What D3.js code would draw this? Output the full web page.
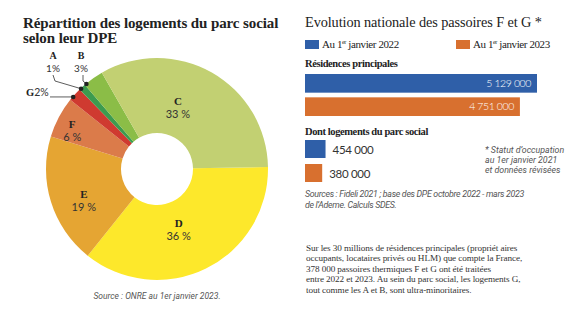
<!DOCTYPE html>
<html>
<head>
<meta charset="utf-8">
<script src="https://cdn.jsdelivr.net/npm/d3@7"></script>
<style>
  body { margin: 0; background: #fff; }
  svg { display: block; }
  .serif { font-family: "Liberation Serif", "DejaVu Serif", serif; }
  .sans { font-family: Lato, "Open Sans", sans-serif; }
  .note { font-family: "Liberation Sans Narrow", Roboto, sans-serif; font-style: italic; fill: #555; }
</style>
</head>
<body>
<div id="chart"></div>
<script>
// DPE classes of social housing, in clockwise order from 3 o'clock
const classes = ["D", "E", "F", "G", "A", "B", "C"]
const shares = [36, 19, 6, 2, 1, 3, 33]
const classColors = ["#fde82b", "#e5a533", "#db7b4a", "#cf3a30", "#3c9b4f", "#8bbd47", "#c2d072"]

// national F and G "passoires"
const periods = ["2022", "2023"]
const periodLabels = ["Au 1", "Au 1"]
const residences = [5129000, 4751000]
const parcSocial = [454000, 380000]
const periodColors = ["#2f5fa8", "#d8702f"]

const W = 576, H = 321
const svg = d3.select("#chart").append("svg").attr("width", W).attr("height", H)

const fmt = d3.formatLocale({ decimal: ",", thousands: " ", grouping: [3], currency: ["", " €"] }).format(",d")

// ---------- left: donut ----------
const cx = 157, cy = 169, outerR = 111, innerR = 36
const start = 89 * Math.PI / 180

const pie = d3.pie().sort(null).value(d => d.v).startAngle(start).endAngle(start + 2 * Math.PI)
const slices = pie(classes.map((c, i) => ({ c, v: shares[i], col: classColors[i] })))
const arc = d3.arc().innerRadius(innerR).outerRadius(outerR)

const g = svg.append("g").attr("transform", `translate(${cx},${cy})`)
g.selectAll("path").data(slices).enter().append("path")
  .attr("d", arc)
  .attr("fill", d => d.data.col)

;["Répartition des logements du parc social", "selon leur DPE"].forEach((l, i) =>
  svg.append("text").attr("class", "serif").attr("x", 23).attr("y", 28 + i * 15)
    .attr("font-size", 15).attr("font-weight", "bold").attr("letter-spacing", -0.1).attr("fill", "#222")
    .text(l))

// inside labels: angle nudge (deg) and radius per class
const inside = { C: [-12, 69], D: [5, 60], E: [-3, 78], F: [-1, 95] }
const toXY = (a, r) => [r * Math.sin(a), -r * Math.cos(a)]
slices.filter(d => inside[d.data.c]).forEach(d => {
  const [nudge, r] = inside[d.data.c]
  const a = (d.startAngle + d.endAngle) / 2 + nudge * Math.PI / 180
  const [x, y] = toXY(a, r)
  const t = g.append("text").attr("text-anchor", "middle").attr("fill", "#222")
  t.append("tspan").attr("class", "serif").attr("x", x).attr("y", y + 2)
    .attr("font-weight", "bold").attr("font-size", 11).text(d.data.c)
  t.append("tspan").attr("class", "sans").attr("x", x).attr("y", y + 15)
    .attr("font-size", 11).attr("font-weight", 400).attr("fill", "#333").text(d.data.v + " %")
})

// outside labels with leader lines (small slices)
const outside = { G: -1.5, A: -1, B: -4.5 }
const dots = {}
slices.filter(d => outside[d.data.c] !== undefined).forEach(d => {
  const a = (d.startAngle + d.endAngle) / 2 + outside[d.data.c] * Math.PI / 180
  const [x, y] = toXY(a, outerR - 0.5)
  dots[d.data.c] = [cx + x, cy + y]
})
const lead = d3.line()
const ls = svg.append("g").attr("fill", "none").attr("stroke", "#333").attr("stroke-width", 0.8)
ls.append("path").attr("d", lead([[53, 75], [55, 81], dots.A]))
ls.append("path").attr("d", lead([[83, 75], [83, 81], dots.B]))
ls.append("path").attr("d", lead([[50, dots.G[1]], dots.G]))
Object.values(dots).forEach(p => svg.append("circle").attr("cx", p[0]).attr("cy", p[1]).attr("r", 2.3).attr("fill", "#222"))

const outLab = (c, x, y) => {
  const v = shares[classes.indexOf(c)]
  svg.append("text").attr("class", "serif").attr("x", x).attr("y", y).attr("text-anchor", "middle")
    .attr("font-weight", "bold").attr("font-size", 10).attr("fill", "#222").text(c)
  svg.append("text").attr("class", "sans").attr("x", x).attr("y", y + 12.5).attr("text-anchor", "middle")
    .attr("font-weight", 400).attr("font-size", 10).attr("fill", "#333").text(v + "%")
}
outLab("A", 53, 59)
outLab("B", 81, 59)
const gt = svg.append("text").attr("x", 26).attr("y", 96).attr("font-size", 10.5).attr("fill", "#222")
gt.append("tspan").attr("class", "serif").attr("font-weight", "bold").text("G")
gt.append("tspan").attr("class", "sans").attr("font-weight", 400).attr("fill", "#333").text(shares[classes.indexOf("G")] + "%")

svg.append("text").attr("class", "note").attr("x", cx).attr("y", 299).attr("text-anchor", "middle")
  .attr("font-size", 8.5).text("Source : ONRE au 1er janvier 2023.")

// ---------- right: bars ----------
const x0 = 305
const x = d3.scaleLinear().domain([0, d3.max(residences)]).range([x0, 537])

svg.append("text").attr("class", "serif").attr("x", x0).attr("y", 27)
  .attr("font-size", 14.3).attr("letter-spacing", -0.1).attr("fill", "#222")
  .text("Evolution nationale des passoires F et G *")

// legend
const legX = [305, 456]
periods.forEach((p, i) => {
  svg.append("rect").attr("x", legX[i]).attr("y", 40).attr("width", 14).attr("height", 9).attr("fill", periodColors[i])
  const t = svg.append("text").attr("class", "serif").attr("x", legX[i] + 17).attr("y", 48)
    .attr("font-size", 11).attr("letter-spacing", -0.4).attr("fill", "#222")
  t.append("tspan").text(periodLabels[i])
  t.append("tspan").attr("font-size", 6).attr("dy", -4).text("er")
  t.append("tspan").attr("dy", 4).text(" janvier " + p)
})

svg.append("text").attr("class", "serif").attr("x", x0).attr("y", 67)
  .attr("font-size", 10.5).attr("font-weight", "bold").attr("letter-spacing", -0.4).attr("fill", "#222")
  .text("Résidences principales")

const yRes = d3.scaleBand().domain(periods).range([74, 116]).paddingInner(0.2)
svg.append("g").selectAll("rect").data(residences).enter().append("rect")
  .attr("x", x0).attr("y", (d, i) => yRes(periods[i]))
  .attr("width", d => x(d) - x0).attr("height", yRes.bandwidth())
  .attr("fill", (d, i) => periodColors[i])
svg.append("g").selectAll("text").data(residences).enter().append("text")
  .attr("class", "sans").attr("x", d => x(d) - 6).attr("y", (d, i) => yRes(periods[i]) + 13)
  .attr("text-anchor", "end").attr("font-size", 10.5).attr("letter-spacing", -0.4)
  .attr("font-weight", 300).attr("fill", "#fff")
  .text(d => fmt(d))

svg.append("text").attr("class", "serif").attr("x", x0).attr("y", 135)
  .attr("font-size", 10.5).attr("font-weight", "bold").attr("letter-spacing", -0.4).attr("fill", "#222")
  .text("Dont logements du parc social")

const ySoc = d3.scaleBand().domain(periods).range([140, 182]).paddingInner(0.25)
svg.append("g").selectAll("rect").data(parcSocial).enter().append("rect")
  .attr("x", x0).attr("y", (d, i) => ySoc(periods[i]))
  .attr("width", d => x(d) - x0).attr("height", ySoc.bandwidth())
  .attr("fill", (d, i) => periodColors[i])
svg.append("g").selectAll("text").data(parcSocial).enter().append("text")
  .attr("class", "sans").attr("x", d => x(d) + 7).attr("y", (d, i) => ySoc(periods[i]) + 14)
  .attr("font-size", 11.5).attr("letter-spacing", -0.3).attr("fill", "#333")
  .text(d => fmt(d))

const star = svg.append("text").attr("class", "note").attr("font-size", 8.8)
;["* Statut d’occupation", "au 1er janvier 2021", "et données révisées"].forEach((l, i) =>
  star.append("tspan").attr("x", 485).attr("y", 153 + i * 10).text(l))

const src = svg.append("text").attr("class", "note").attr("font-size", 8.8).attr("letter-spacing", -0.3)
;["Sources : Fideli 2021 ; base des DPE octobre 2022 - mars 2023", "de l’Ademe. Calculs SDES."].forEach((l, i) =>
  src.append("tspan").attr("x", x0).attr("y", 197 + i * 10.5).text(l))

const para = svg.append("text").attr("class", "serif").attr("font-size", 9.2).attr("fill", "#333").attr("letter-spacing", -0.1)
;["Sur les 30 millions de résidences principales (propriét aires",
  "occupants, locataires privés ou HLM) que compte la France,",
  "378 000 passoires thermiques F et G ont été traitées",
  "entre 2022 et 2023. Au sein du parc social, les logements G,",
  "tout comme les A et B, sont ultra-minoritaires."].forEach((l, i) =>
  para.append("tspan").attr("x", 306).attr("y", 251 + i * 10.4).text(l))
</script>
</body>
</html>
